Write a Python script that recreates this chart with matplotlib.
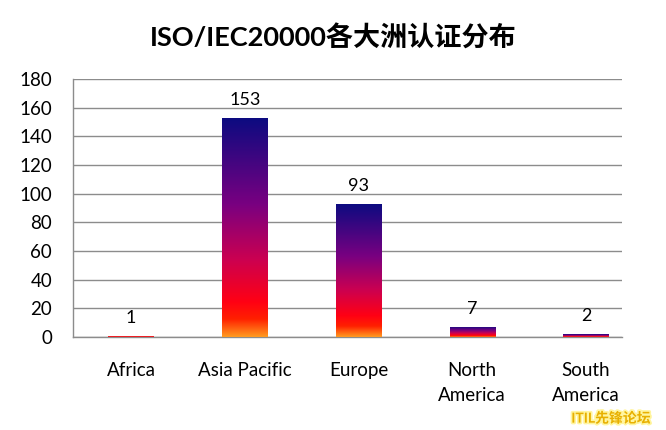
import numpy as np
import matplotlib
matplotlib.use("Agg")
import matplotlib.pyplot as plt
from matplotlib.colors import LinearSegmentedColormap
import matplotlib.patheffects as pe

plt.rcParams['font.family'] = ['Lato', 'Noto Sans CJK SC', 'DejaVu Sans']

categories = ["Africa", "Asia Pacific", "Europe", "North\nAmerica", "South\nAmerica"]
values = [1, 153, 93, 7, 2]
title = "ISO/IEC20000各大洲认证分布"
yticks = [0, 20, 40, 60, 80, 100, 120, 140, 160, 180]

fig = plt.figure(figsize=(6.66, 4.30), dpi=100)
ax = fig.add_axes([73/666, 1-337/430, (622-73)/666, (337-79)/430])

cmap = LinearSegmentedColormap.from_list("grad", [
    (0.0, "#0b0b80"), (0.4, "#7a0080"), (0.65, "#cc0050"),
    (0.84, "#ff0014"), (0.92, "#ff2000"), (1.0, "#ff9a20")])
grad = np.linspace(0, 1, 256).reshape(-1, 1)

x = np.arange(len(categories))
width = 0.40
bars = ax.bar(x, values, width=width, color='none', edgecolor='none', zorder=3)
for b, v in zip(bars, values):
    x0 = b.get_x()
    im = ax.imshow(grad, cmap=cmap, aspect='auto',
                   extent=(x0, x0 + width, 0, max(v, 1.2)), origin='upper', zorder=3)
    im.set_clip_path(b)
    ax.annotate(str(v), (b.get_x() + width/2, v), xytext=(0, 7), textcoords='offset points',
                ha='center', va='bottom', fontsize=13, color='#000000')

ax.set_xlim(-0.51, 4.316)
ax.set_ylim(0, 180)
ax.set_yticks(yticks)
ax.set_xticks(x)
ax.set_xticklabels(categories, fontsize=13.5, linespacing=1.6)
ax.tick_params(axis='x', length=0, pad=18)
ax.tick_params(axis='y', length=0, pad=15, labelsize=13.5)
ax.grid(axis='y', color='#8c8c8c', linewidth=1, zorder=0)
ax.set_axisbelow(True)
for s in ['top', 'right']:
    ax.spines[s].set_visible(False)
for s in ['left', 'bottom']:
    ax.spines[s].set_color('#8c8c8c')
    ax.spines[s].set_linewidth(1)

fig.text(333/666, 1-38/430, title, ha='center', va='center', fontsize=19.5, fontweight='bold')
fig.text(611/666, 1-418/430, "ITIL先锋论坛", ha='center', va='center', fontsize=10,
         fontweight='bold', color='#e8b000',
         path_effects=[pe.withStroke(linewidth=2.5, foreground='#fff5a0')])

fig.savefig("out.png", dpi=100)
